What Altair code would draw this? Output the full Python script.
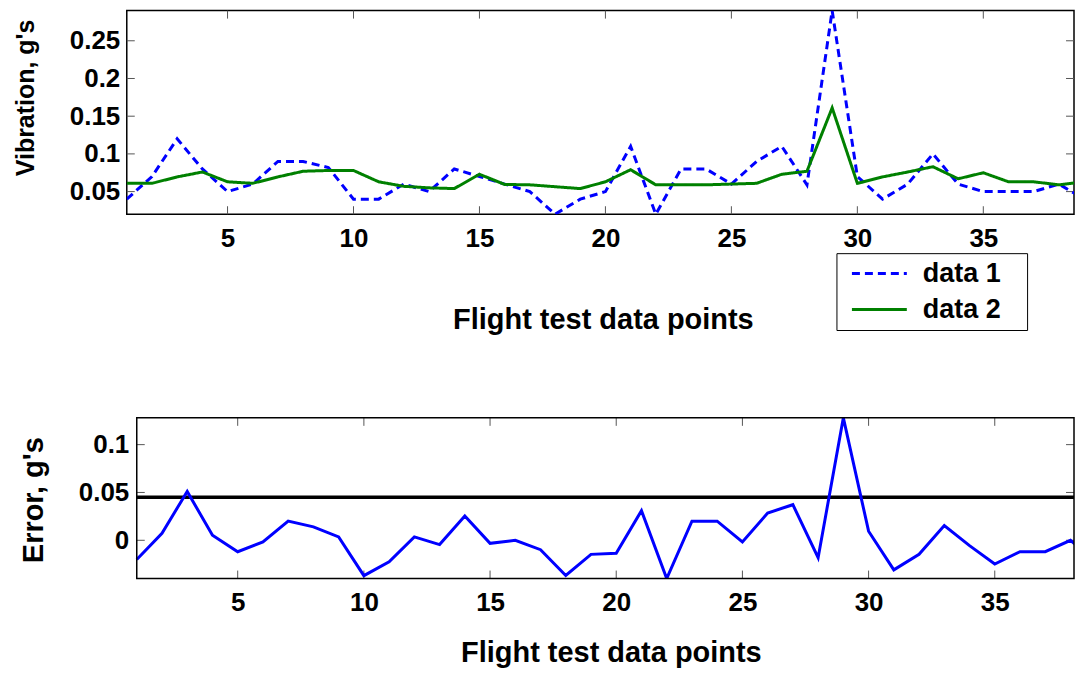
import altair as alt
import pandas as pd

# ---- data ----
x_points = list(range(1, 40))
data1 = [0.04, 0.07, 0.12, 0.08, 0.05, 0.06, 0.09, 0.09, 0.082, 0.04,
         0.04, 0.06, 0.05, 0.08, 0.07, 0.06, 0.05, 0.02, 0.04, 0.05,
         0.11, 0.02, 0.08, 0.08, 0.06, 0.09, 0.11, 0.059, 0.29, 0.07,
         0.04, 0.06, 0.10, 0.06, 0.05, 0.05, 0.05, 0.06, 0.04]
data2 = [0.061, 0.061, 0.0695, 0.076, 0.063, 0.061, 0.0695, 0.077, 0.078, 0.078,
         0.063, 0.057, 0.055, 0.054, 0.073, 0.0595, 0.059, 0.0565, 0.054, 0.063,
         0.079, 0.059, 0.059, 0.059, 0.060, 0.061, 0.073, 0.077, 0.161, 0.061,
         0.0695, 0.076, 0.083, 0.067, 0.075, 0.063, 0.063, 0.059, 0.063]
error = [-0.020, 0.0074, 0.051, 0.0053, -0.012, -0.0017, 0.020, 0.014, 0.0036, -0.037,
         -0.0224, 0.0036, -0.0045, 0.0253, -0.0032, 0.0, -0.0098, -0.0368, -0.0147, -0.0135,
         0.031, -0.040, 0.020, 0.020, -0.0017, 0.0285, 0.0372, -0.0182, 0.128, 0.0095,
         -0.0309, -0.0147, 0.0155, -0.0056, -0.0248, -0.0119, -0.0119, 0.0, -0.022]
threshold = [0.045]
series_names = ["data 1", "data 2"]
series_colors = ["#0000ff", "#008000"]
series_dash = [[8, 5], [1, 0]]
x_ticks = [5, 10, 15, 20, 25, 30, 35]
top_y_ticks = [0.05, 0.1, 0.15, 0.2, 0.25]
bot_y_ticks = [0, 0.05, 0.1]

FONT = "Liberation Sans"
TW, TH = 949, 204          # top plot area (right part of the x range is cut by the window)
BW, BH = 949, 161          # bottom view; its frame starts BL px in
BL = 10
TICK = 8
TICK_COLOR = "#555555"

top_df = pd.DataFrame({
    "x": x_points * 2,
    "v": data1 + data2,
    "series": [series_names[0]] * len(data1) + [series_names[1]] * len(data2),
})
bot_df = pd.DataFrame({"x": x_points, "e": error})
xt_df = pd.DataFrame({"x": x_ticks})
yt_top_df = pd.DataFrame({"v": top_y_ticks})
yt_bot_df = pd.DataFrame({"e": bot_y_ticks})
thr_df = pd.DataFrame({"e": threshold})

# ---- top panel ----
x_top = alt.X("x:Q", scale=alt.Scale(domain=[1, 38.6], nice=False, zero=False),
              axis=alt.Axis(values=x_ticks, format="d", title="Flight test data points",
                            titleFontSize=29, titleBaseline="alphabetic", titleY=114,
                            titleX=477, labelPadding=11))
vmin, vmax = min(data1 + data2), max(data1 + data2)
y_top = alt.Y("v:Q", scale=alt.Scale(domain=[vmin, vmax], nice=False, zero=False),
              axis=alt.Axis(values=top_y_ticks, format="~g", title="Vibration, g's",
                            titleFontSize=25, titleBaseline="alphabetic", titleX=-93,
                            titleY=87, labelPadding=7))

leg = alt.Legend(title=None, orient="none", legendX=711, legendY=243, direction="vertical")

lines_top = alt.Chart(top_df).mark_line(strokeWidth=3, clip=True).encode(
    x=x_top, y=y_top,
    color=alt.Color("series:N", scale=alt.Scale(domain=series_names, range=series_colors), legend=leg),
    strokeDash=alt.StrokeDash("series:N", scale=alt.Scale(domain=series_names, range=series_dash), legend=leg),
)
xt_b = alt.Chart(xt_df).mark_rule(color=TICK_COLOR, strokeWidth=1).encode(
    x=x_top, y=alt.value(TH), y2=alt.value(TH - TICK))
xt_t = alt.Chart(xt_df).mark_rule(color=TICK_COLOR, strokeWidth=1).encode(
    x=x_top, y=alt.value(0), y2=alt.value(TICK))
yt_l = alt.Chart(yt_top_df).mark_rule(color=TICK_COLOR, strokeWidth=1).encode(
    y=y_top, x=alt.value(0), x2=alt.value(TICK))
yt_r = alt.Chart(yt_top_df).mark_rule(color=TICK_COLOR, strokeWidth=1).encode(
    y=y_top, x=alt.value(TW - TICK), x2=alt.value(TW))

top = alt.layer(xt_b, xt_t, yt_l, yt_r, lines_top).properties(width=TW, height=TH)

# ---- bottom panel ----
x_bot = alt.X("x:Q", scale=alt.Scale(domain=[1, 38.14], nice=False, zero=False, range=[BL, BW]),
              axis=alt.Axis(values=x_ticks, format="d", title="Flight test data points",
                            titleFontSize=29, titleBaseline="alphabetic", titleY=83,
                            titleX=485, labelPadding=11))
emin, emax = min(error), max(error)
y_bot = alt.Y("e:Q", scale=alt.Scale(domain=[emin, emax], nice=False, zero=False),
              axis=alt.Axis(values=bot_y_ticks, format="~g", title="Error, g's",
                            titleFontSize=29, titleBaseline="alphabetic", titleX=-94,
                            titleY=82, labelPadding=8, offset=-BL))

frame = alt.Chart(thr_df).mark_rect(fillOpacity=0, stroke="black", strokeWidth=1.5).encode(
    x=alt.value(BL), x2=alt.value(BW), y=alt.value(0), y2=alt.value(BH))
err_line = alt.Chart(bot_df).mark_line(strokeWidth=3, color="#0000ff", clip=True).encode(x=x_bot, y=y_bot)
thr_line = alt.Chart(thr_df).mark_rule(strokeWidth=3.5, color="black").encode(
    y=y_bot, x=alt.value(BL), x2=alt.value(BW))
bxt_b = alt.Chart(xt_df).mark_rule(color=TICK_COLOR, strokeWidth=1).encode(
    x=x_bot, y=alt.value(BH), y2=alt.value(BH - TICK))
bxt_t = alt.Chart(xt_df).mark_rule(color=TICK_COLOR, strokeWidth=1).encode(
    x=x_bot, y=alt.value(0), y2=alt.value(TICK))
byt_l = alt.Chart(yt_bot_df).mark_rule(color=TICK_COLOR, strokeWidth=1).encode(
    y=y_bot, x=alt.value(BL), x2=alt.value(BL + TICK))
byt_r = alt.Chart(yt_bot_df).mark_rule(color=TICK_COLOR, strokeWidth=1).encode(
    y=y_bot, x=alt.value(BW - TICK), x2=alt.value(BW))

bottom = alt.layer(bxt_b, bxt_t, byt_l, byt_r, thr_line, err_line, frame).properties(
    width=BW, height=BH, view=alt.ViewBackground(stroke=None))

chart = alt.vconcat(top, bottom, spacing=82).properties(
    padding={"left": 5, "top": 0, "right": 0, "bottom": 0}
).configure_view(
    stroke="black", strokeWidth=1.5
).configure_axis(
    labelFont=FONT, labelFontSize=26, labelFontWeight="bold", labelColor="black",
    titleFont=FONT, titleFontWeight="bold", titleColor="black",
    domain=False, ticks=False, tickSize=0, grid=False,
).configure_legend(
    labelFont=FONT, labelFontSize=27, labelFontWeight="bold", labelColor="black",
    strokeColor="black", fillColor="white", padding=7, cornerRadius=0,
    symbolType="M-2.75,0H2.75M13.45,0", symbolSize=400, symbolStrokeWidth=3,
    symbolOffset=22.5, labelOffset=30, rowPadding=8,
)

chart.save("out.html", embed_options={"renderer": "svg", "actions": False})
